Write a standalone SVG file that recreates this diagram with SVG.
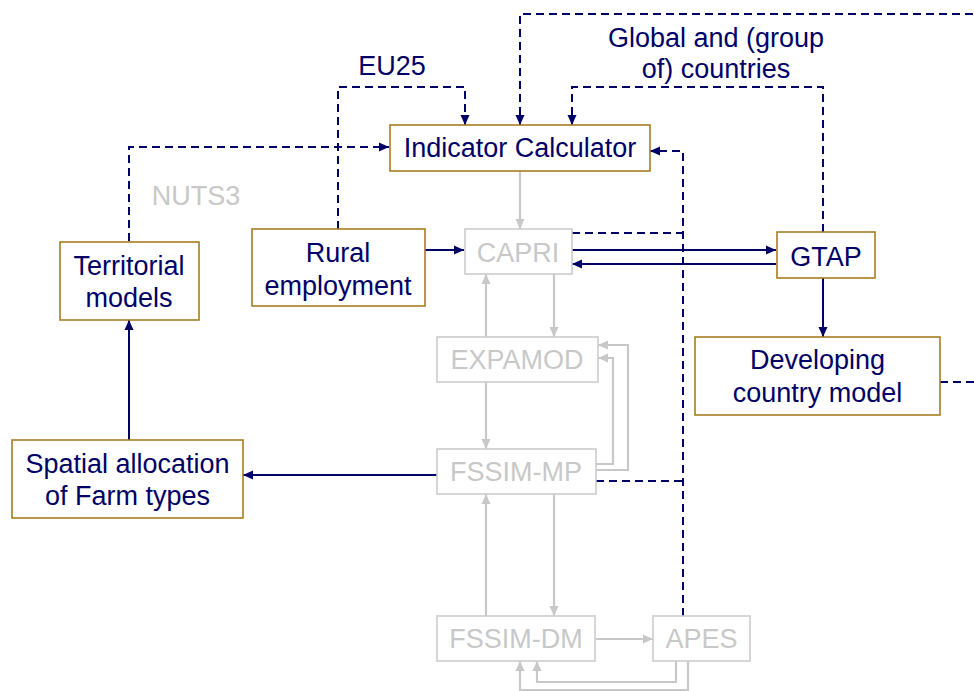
<svg xmlns="http://www.w3.org/2000/svg" width="974" height="691" viewBox="0 0 974 691">
<style>
text{font-family:"Liberation Sans",Arial,sans-serif;font-size:27px;text-anchor:middle}
.n{fill:#000066}
.g{fill:#c8c8c8}
.bx{fill:#fff;stroke:#a67c22;stroke-width:1.6}
.gb{fill:#fff;stroke:#cccccc;stroke-width:1.6}
.ns{fill:none;stroke:#000066;stroke-width:2}
.nd{fill:none;stroke:#000066;stroke-width:2;stroke-dasharray:8,5}
.gs{fill:none;stroke:#c8c8c8;stroke-width:2.2}
.an{marker-end:url(#aN)}
.ag{marker-end:url(#aG)}
</style>
<defs>
<marker id="aN" markerUnits="userSpaceOnUse" markerWidth="11" markerHeight="10" refX="10" refY="5" orient="auto"><path d="M0,0.5 L10,5 L0,9.5 z" fill="#000066"/></marker>
<marker id="aG" markerUnits="userSpaceOnUse" markerWidth="11" markerHeight="10" refX="10" refY="5" orient="auto"><path d="M0,0.5 L10,5 L0,9.5 z" fill="#c8c8c8"/></marker>
</defs>
<rect width="974" height="691" fill="#fff"/>
<g id="connectors">
<path class="ns an" d="M425,250 H464"/>
<path class="ns an" d="M572,250 H776"/>
<path class="ns an" d="M776,264 H572"/>
<path class="ns an" d="M823,278 V337"/>
<path class="ns an" d="M437,475 H243"/>
<path class="ns an" d="M129,440 V320"/>
<path class="nd an" d="M129,241 V147 H389"/>
<path class="nd an" d="M338,229 V87 H465 V125"/>
<path class="nd an" d="M823,232 V87 H572 V125"/>
<path class="nd an" d="M940,382 H1000 V14 H520 V125"/>
<path class="nd an" d="M683,616 V151 H650"/>
<path class="nd" d="M572,233 H683"/>
<path class="nd" d="M596,481 H683"/>
<path class="gs ag" d="M520,171 V229"/>
<path class="gs ag" d="M554,274 V337"/>
<path class="gs ag" d="M486,337 V274"/>
<path class="gs ag" d="M486,382 V449"/>
<path class="gs ag" d="M596,464 H613 V358 H598"/>
<path class="gs ag" d="M596,470 H628 V345 H598"/>
<path class="gs ag" d="M486,616 V494"/>
<path class="gs ag" d="M554,494 V616"/>
<path class="gs ag" d="M596,639 H653"/>
<path class="gs ag" d="M676,661 V682 H537 V661"/>
<path class="gs ag" d="M688,661 V690 H520 V661"/>
</g>
<g id="labels">
<text class="n" x="392" y="75">EU25</text>
<text class="n" x="716" y="47">Global and (group</text>
<text class="n" x="716" y="78">of) countries</text>
<text class="g" x="196" y="205">NUTS3</text>
</g>
<g id="indicator"><rect class="bx" x="390" y="125" width="260" height="46"/><text class="n" x="520" y="157">Indicator Calculator</text></g>
<g id="rural"><rect class="bx" x="252" y="229" width="173" height="77"/><text class="n" x="338" y="262">Rural</text><text class="n" x="338" y="295">employment</text></g>
<g id="territorial"><rect class="bx" x="60" y="242" width="139" height="78"/><text class="n" x="129" y="275">Territorial</text><text class="n" x="129" y="307">models</text></g>
<g id="spatial"><rect class="bx" x="12" y="440" width="231" height="78"/><text class="n" x="127.5" y="473">Spatial allocation</text><text class="n" x="127.5" y="505">of Farm types</text></g>
<g id="gtap"><rect class="bx" x="777" y="232" width="98" height="46"/><text class="n" x="826" y="266">GTAP</text></g>
<g id="dcm"><rect class="bx" x="695" y="337" width="245" height="78"/><text class="n" x="817.5" y="369">Developing</text><text class="n" x="817.5" y="402">country model</text></g>
<g id="capri"><rect class="gb" x="465" y="229" width="107" height="45"/><text class="g" x="518" y="262">CAPRI</text></g>
<g id="expamod"><rect class="gb" x="437" y="337" width="161" height="45"/><text class="g" x="517" y="369">EXPAMOD</text></g>
<g id="fssim-mp"><rect class="gb" x="437" y="449" width="159" height="45"/><text class="g" x="516" y="481">FSSIM-MP</text></g>
<g id="fssim-dm"><rect class="gb" x="437" y="616" width="158" height="45"/><text class="g" x="516" y="648">FSSIM-DM</text></g>
<g id="apes"><rect class="gb" x="653" y="616" width="97" height="45"/><text class="g" x="701.5" y="648">APES</text></g>
</svg>
